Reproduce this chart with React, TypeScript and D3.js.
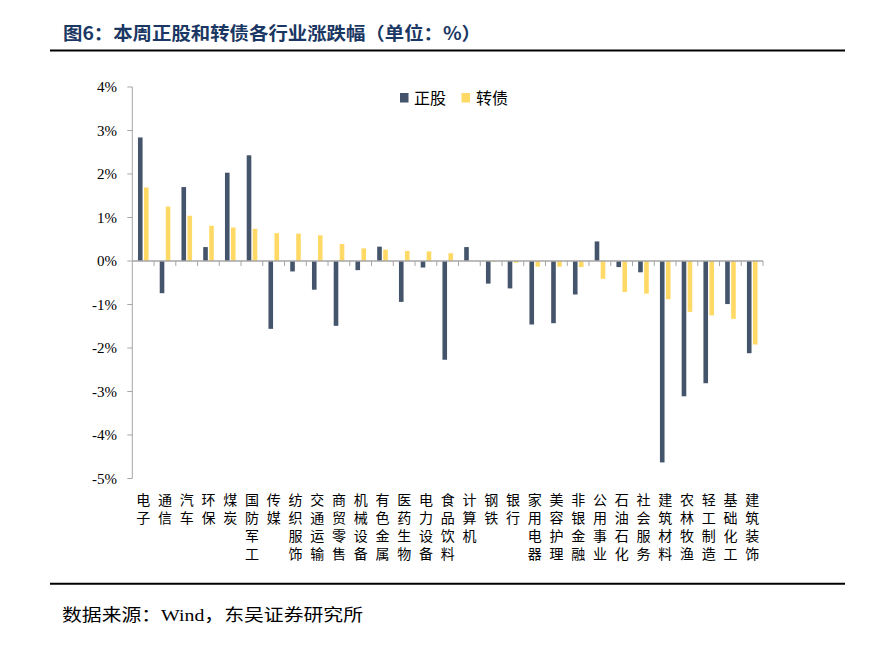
import React from "react";
import * as d3 from "d3";

const categories = ["电子","通信","汽车","环保","煤炭","国防军工","传媒","纺织服饰","交通运输","商贸零售","机械设备","有色金属","医药生物","电力设备","食品饮料","计算机","钢铁","银行","家用电器","美容护理","非银金融","公用事业","石油石化","社会服务","建筑材料","农林牧渔","轻工制造","基础化工","建筑装饰"];
const stockValues = [2.84,-0.74,1.70,0.32,2.03,2.43,-1.56,-0.24,-0.66,-1.49,-0.21,0.33,-0.94,-0.15,-2.27,0.32,-0.52,-0.63,-1.46,-1.43,-0.77,0.45,-0.14,-0.26,-4.63,-3.11,-2.81,-0.99,-2.12];
const bondValues = [1.69,1.25,1.04,0.81,0.77,0.74,0.64,0.63,0.59,0.39,0.29,0.26,0.23,0.22,0.18,0,-0.02,-0.04,-0.13,-0.13,-0.14,-0.41,-0.71,-0.75,-0.88,-1.17,-1.25,-1.33,-1.92];
const yTicks = [4,3,2,1,0,-1,-2,-3,-4,-5];
const seriesNames = ["正股","转债"];

const W = 894, H = 649;
const stockColor = "#44546A";
const bondColor = "#FFD966";
const axisColor = "#A6A6A6";

export default function App() {
  const y = d3.scaleLinear().domain([-5, 4]).range([478.5, 87]);
  const x = d3.scaleBand<string>().domain(categories).range([132.3, 763]).paddingInner(0).paddingOuter(0);
  const bw = x.bandwidth();
  const barW = 4.6;
  const y0 = y(0);
  const cjk = "'Noto Sans CJK SC', sans-serif";
  const serif = "'Liberation Serif', 'Times New Roman', serif";

  return (
    <svg width={W} height={H} style={{ position: "absolute", left: 0, top: 0, background: "#fff" }}>
      <text x={63} y={39.5} fontFamily={cjk} fontWeight="bold" fontSize={18} fill="#1B3763" textLength={418} lengthAdjust="spacingAndGlyphs">图6：本周正股和转债各行业涨跌幅（单位：%）</text>
      <line x1={50} x2={845} y1={50.5} y2={50.5} stroke="#000" strokeWidth={2} />
      <line x1={50} x2={845} y1={583.7} y2={583.7} stroke="#000" strokeWidth={2} />
      <text x={62} y={621} fontFamily={cjk} fontSize={16.5} fill="#000" textLength={301} lengthAdjust="spacingAndGlyphs">数据来源：<tspan fontFamily={serif}>Wind</tspan>，东吴证券研究所</text>

      {/* y axis */}
      <line x1={x.range()[0]} x2={x.range()[0]} y1={y(4)} y2={y(-5)} stroke={axisColor} strokeWidth={1} />
      {yTicks.map(t => (
        <g key={t}>
          <line x1={x.range()[0] - 5} x2={x.range()[0]} y1={y(t)} y2={y(t)} stroke={axisColor} />
          <text x={117} y={y(t)} dy="0.35em" textAnchor="end" fontFamily={serif} fontSize={15} fill="#000">{t}%</text>
        </g>
      ))}

      {/* bars */}
      {categories.map((c, i) => {
        const cx = (x(c) as number) + bw / 2;
        const s = stockValues[i], b = bondValues[i];
        return (
          <g key={c}>
            <rect x={cx - 5.2} width={barW} y={Math.min(y(s), y0)} height={Math.abs(y(s) - y0)} fill={stockColor} />
            <rect x={cx + 0.8} width={barW} y={Math.min(y(b), y0)} height={Math.abs(y(b) - y0)} fill={bondColor} />
          </g>
        );
      })}

      {/* x axis */}
      <line x1={x.range()[0]} x2={x.range()[1]} y1={y0} y2={y0} stroke={axisColor} strokeWidth={1.5} />
      {categories.map((c, i) => (
        <line key={"t" + i} x1={(x(c) as number) + bw} x2={(x(c) as number) + bw} y1={y0} y2={y0 + 5} stroke={axisColor} />
      ))}

      {/* x labels, vertical text */}
      {categories.map(c => {
        const cx = (x(c) as number) + bw / 2;
        return (
          <text key={"l" + c} x={cx} y={493} fontFamily={cjk} fontSize={14} fill="#000"
            style={{ writingMode: "vertical-rl", letterSpacing: "4px" } as any}>{c}</text>
        );
      })}

      {/* legend */}
      <rect x={400} y={93} width={8.5} height={9.5} fill={stockColor} />
      <text x={414} y={104} fontFamily={cjk} fontSize={16} fill="#000">{seriesNames[0]}</text>
      <rect x={461.5} y={93} width={8.5} height={9.5} fill={bondColor} />
      <text x={476} y={104} fontFamily={cjk} fontSize={16} fill="#000">{seriesNames[1]}</text>
    </svg>
  );
}
